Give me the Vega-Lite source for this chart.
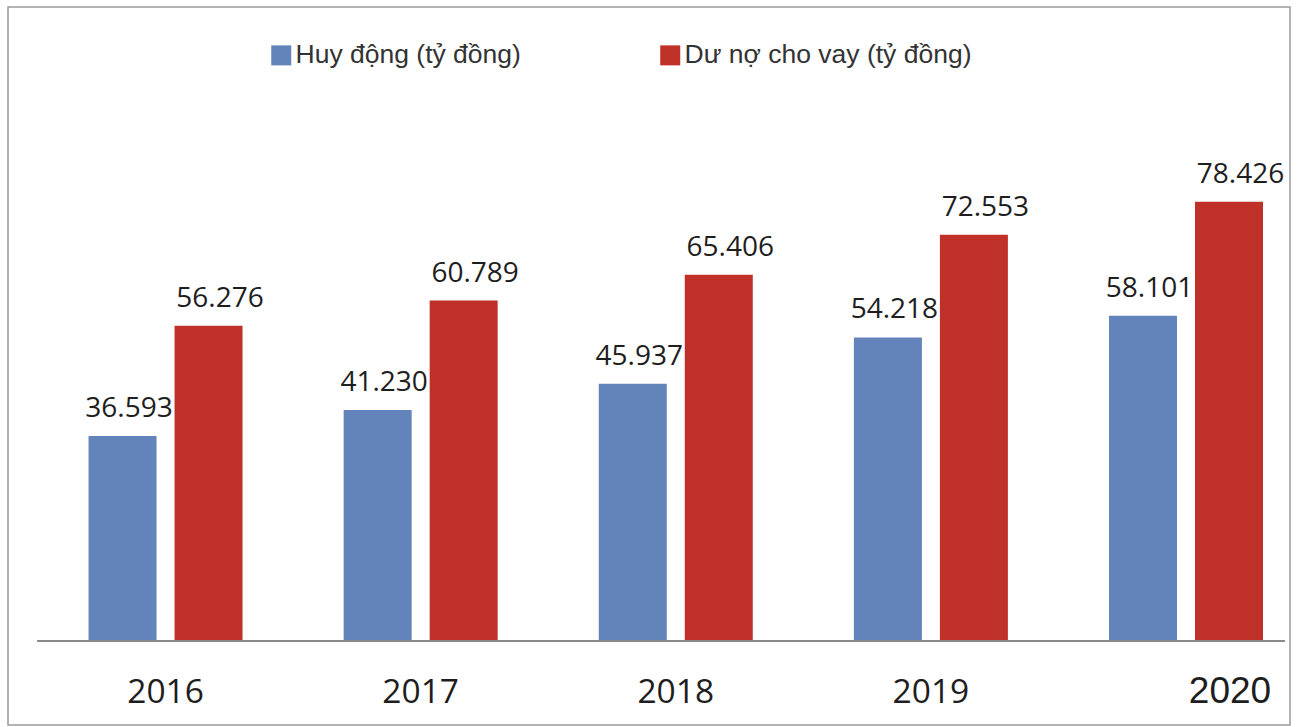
{
  "$schema": "https://vega.github.io/schema/vega-lite/v6.json",
  "width": 1282,
  "height": 718,
  "autosize": {"type": "none"},
  "padding": {"left": 8, "top": 7, "right": 13, "bottom": 2},
  "background": "white",
  "config": {
    "locale": {"number": {"decimal": ",", "thousands": ".", "grouping": [3], "currency": ["", " ₫"]}},
    "view": {"stroke": "#9a9a9a", "strokeWidth": 1.5}
  },
  "data": {
    "values": [
      {"year": 2016, "huy": 36593, "duno": 56276},
      {"year": 2017, "huy": 41230, "duno": 60789},
      {"year": 2018, "huy": 45937, "duno": 65406},
      {"year": 2019, "huy": 54218, "duno": 72553},
      {"year": 2020, "huy": 58101, "duno": 78426}
    ]
  },
  "encoding": {
    "x": {
      "field": "year",
      "type": "quantitative",
      "scale": {"domain": [2015.404, 2020.39], "nice": false, "zero": false},
      "axis": {
        "title": null,
        "orient": "bottom",
        "offset": -84,
        "domain": false,
        "ticks": false,
        "tickSize": 0,
        "grid": false,
        "values": [2016, 2017, 2018, 2019, 2020],
        "format": "d",
        "labelBaseline": "alphabetic",
        "labelPadding": 61,
        "labelFont": {"condition": {"test": "datum.value == 2020", "value": "Liberation Sans"}, "value": "Open Sans"},
        "labelFontSize": {"condition": {"test": "datum.value == 2020", "value": 37}, "value": 33.5},
        "labelFontWeight": {"condition": {"test": "datum.value == 2020", "value": "normal"}, "value": 500},
        "labelOffset": {"condition": {"test": "datum.value == 2020", "value": 44}, "value": 0},
        "labelColor": "#1e1e1e",
        "labelOverlap": false,
        "labelFlush": false
      }
    }
  },
  "layer": [
    {
      "mark": {"type": "bar", "width": 68, "xOffset": -42.5},
      "encoding": {
        "y": {"field": "huy", "type": "quantitative", "scale": {"domain": [-15000, 113214], "nice": false, "zero": false}, "axis": null},
        "y2": {"datum": 0},
        "color": {
          "datum": "Huy động (tỷ đồng)",
          "scale": {"domain": ["Huy động (tỷ đồng)", "Dư nợ cho vay (tỷ đồng)"], "range": ["#6384bb", "#bf3128"]},
          "legend": {
            "title": null,
            "orient": "none",
            "legendX": 260,
            "legendY": 35,
            "direction": "horizontal",
            "symbolType": "square",
            "symbolSize": 400,
            "symbolStrokeWidth": 0,
            "labelFont": "Liberation Sans",
            "labelFontSize": 26.5,
            "labelColor": "#333333",
            "labelOffset": 1,
            "labelLimit": 0,
            "columnPadding": 136
          }
        }
      }
    },
    {
      "mark": {"type": "bar", "width": 68, "xOffset": 43.5},
      "encoding": {
        "y": {"field": "duno", "type": "quantitative", "scale": {"domain": [-15000, 113214], "nice": false, "zero": false}, "axis": null},
        "y2": {"datum": 0},
        "color": {"datum": "Dư nợ cho vay (tỷ đồng)"}
      }
    },
    {
      "mark": {"type": "text", "dx": -36, "dy": -19, "baseline": "alphabetic", "align": "center", "font": "Open Sans", "fontSize": 28, "color": "#1e1e1e"},
      "encoding": {
        "y": {"field": "huy", "type": "quantitative", "scale": {"domain": [-15000, 113214], "nice": false, "zero": false}, "axis": null},
        "text": {"field": "huy", "type": "quantitative", "format": ",d"}
      }
    },
    {
      "mark": {"type": "text", "dx": 55, "dy": -19, "baseline": "alphabetic", "align": "center", "font": "Open Sans", "fontSize": 28, "color": "#1e1e1e"},
      "encoding": {
        "y": {"field": "duno", "type": "quantitative", "scale": {"domain": [-15000, 113214], "nice": false, "zero": false}, "axis": null},
        "text": {"field": "duno", "type": "quantitative", "format": ",d"}
      }
    },
    {
      "mark": {"type": "rule", "color": "#8a8a8a", "strokeWidth": 1.5},
      "encoding": {
        "x": {"datum": 2015.5, "type": "quantitative", "scale": {"domain": [2015.404, 2020.39], "nice": false, "zero": false}},
        "x2": {"datum": 2020.39},
        "y": {"datum": 0, "type": "quantitative", "scale": {"domain": [-15000, 113214], "nice": false, "zero": false}}
      }
    }
  ]
}
